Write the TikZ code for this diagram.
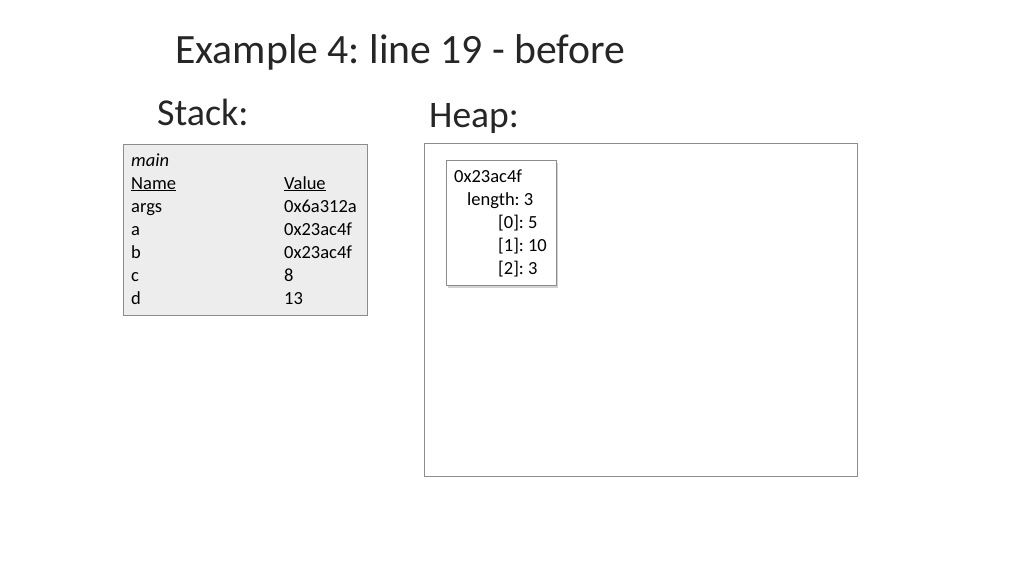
\documentclass[tikz,border=0pt]{standalone}
\usepackage{fontspec}
\setmainfont{Carlito}
\usetikzlibrary{shadows}
\definecolor{boxline}{HTML}{8C8C8C}
\definecolor{stackfill}{HTML}{EDEDED}
\frenchspacing
\begin{document}
\begin{tikzpicture}[x=1pt,y=-1pt,
  txt/.style={anchor=base west,inner sep=0pt,font=\fontsize{18.5}{20}\selectfont},
  frame/.style={draw=boxline,line width=0.9pt,inner sep=0pt,rectangle}]
\useasboundingbox[fill=white] (0,0) rectangle (1024,576);
\node[txt,font=\fontsize{41.7}{44}\selectfont,text=black!85] (title) at (175,63) {Example 4: line 19 - before};
\node[txt,font=\fontsize{38}{40}\selectfont,text=black!85] (stacklbl) at (157,125) {Stack:};
\node[txt,font=\fontsize{37.5}{40}\selectfont,text=black!85] (heaplbl) at (429,127) {Heap:};
% boxes
\node[frame,fill=stackfill,minimum width=244pt,minimum height=171pt] (stack) at (245,229.5) {};
\node[frame,fill=white,minimum width=433pt,minimum height=333pt] (heap) at (640.5,309.5) {};
\node[frame,fill=white,minimum width=110pt,minimum height=125pt,
  drop shadow={shadow xshift=2pt,shadow yshift=-2.5pt,opacity=0.35}] (obj) at (501,222.5) {};
% stack frame text
\node[txt] (smain) at (131,166) {\itshape main};
\node[txt] (sname) at (131,189) {\underline{Name}};
\node[txt] (svalue) at (284,189) {\underline{Value}};
\node[txt] (nargs) at (131,212) {args};
\node[txt] (vargs) at (284,212) {0x6a312a};
\node[txt] (na) at (131,235) {a};
\node[txt] (va) at (284,235) {0x23ac4f};
\node[txt] (nb) at (131,258) {b};
\node[txt] (vb) at (284,258) {0x23ac4f};
\node[txt] (nc) at (131,281) {c};
\node[txt] (vc) at (284,281) {8};
\node[txt] (nd) at (131,304) {d};
\node[txt] (vd) at (284,304) {13};
% heap object text
\node[txt] (oaddr) at (454,182) {0x23ac4f};
\node[txt] (olen) at (467,205) {length: 3};
\node[txt] (o0) at (498,228) {[0]: 5};
\node[txt] (o1) at (498,251) {[1]: 10};
\node[txt] (o2) at (498,274) {[2]: 3};
\end{tikzpicture}
\end{document}
